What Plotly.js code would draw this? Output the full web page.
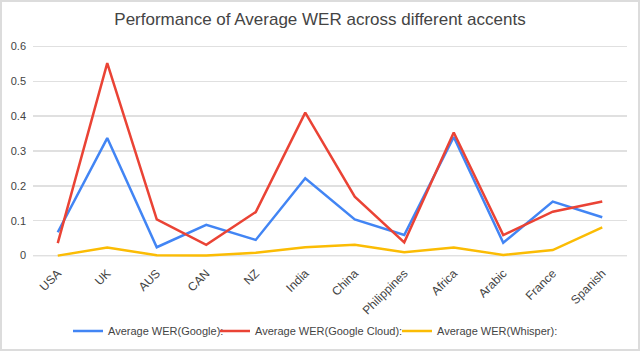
<!DOCTYPE html>
<html>
<head>
<meta charset="utf-8">
<script src="https://cdn.plot.ly/plotly-3.0.1.min.js"></script>
<style>
html,body{margin:0;padding:0;background:#fff;}
#wrap{width:640px;height:351px;box-sizing:border-box;border:2px solid #dcdcdc;position:relative;overflow:hidden;}
#chart{position:absolute;left:-2px;top:-2px;width:640px;height:351px;}
</style>
</head>
<body>
<div id="wrap"><div id="chart"></div></div>
<script>
const accents = ["USA","UK","AUS","CAN","NZ","India","China","Philippines","Africa","Arabic","France","Spanish"];
const werGoogle = [0.067,0.337,0.024,0.088,0.045,0.222,0.104,0.059,0.340,0.037,0.155,0.110];
const werGoogleCloud = [0.036,0.552,0.104,0.031,0.125,0.410,0.169,0.038,0.353,0.059,0.126,0.155];
const werWhisper = [0.000,0.023,0.001,0.000,0.008,0.024,0.031,0.010,0.023,0.002,0.016,0.081];
const seriesNames = ["Average WER(Google):","Average WER(Google Cloud):","Average WER(Whisper):"];
const seriesColors = ["#4285F4","#EA4335","#FBBC04"];
const legendIds = ["legend","legend2","legend3"];

const font = "'Liberation Sans', Arial, sans-serif";
const traces = [werGoogle, werGoogleCloud, werWhisper].map((vals, i) => ({
  type: "scatter",
  mode: "lines",
  x: accents,
  y: vals,
  name: seriesNames[i],
  legend: legendIds[i],
  line: {color: seriesColors[i], width: 2.5},
  cliponaxis: false
}));

function legendAt(px) {
  return {
    orientation: "h",
    xref: "container", yref: "container",
    x: px / 640, xanchor: "left",
    y: (351 - 331) / 351, yanchor: "middle",
    font: {family: font, size: 11, color: "#444"},
    bgcolor: "rgba(0,0,0,0)",
    borderwidth: 0,
    itemwidth: 30
  };
}

const layout = {
  width: 640,
  height: 351,
  margin: {l: 33, r: 13, t: 45, b: 94, pad: 0},
  paper_bgcolor: "#fff",
  plot_bgcolor: "#fff",
  font: {family: font, color: "#444", size: 11},
  title: {
    text: "Performance of Average WER across different accents",
    font: {family: font, size: 17, color: "#444"},
    x: 0.5, xanchor: "center", y: 0.945, yanchor: "middle"
  },
  xaxis: {
    type: "category",
    range: [-0.5, 11.5],
    tickangle: -45,
    showgrid: false,
    zeroline: false,
    showline: false,
    ticks: "",
    ticklabelstandoff: 6,
    tickfont: {family: font, size: 12, color: "#444"},
    automargin: false,
    fixedrange: true
  },
  yaxis: {
    range: [-0.004, 0.604],
    tickvals: [0, 0.1, 0.2, 0.3, 0.4, 0.5, 0.6],
    ticktext: ["0", "0.1", "0.2", "0.3", "0.4", "0.5", "0.6"],
    showgrid: true,
    gridcolor: "#e0e0e0",
    gridwidth: 1.3,
    zeroline: false,
    showline: false,
    ticks: "",
    ticklabelstandoff: 6,
    tickfont: {family: font, size: 11, color: "#444"},
    automargin: false,
    fixedrange: true
  },
  shapes: [{
    type: "line", xref: "paper", yref: "y", x0: 0, x1: 1, y0: 0, y1: 0,
    line: {color: "#cccccc", width: 1.3}, layer: "below"
  }],
  showlegend: true,
  legend: legendAt(68),
  legend2: legendAt(215),
  legend3: legendAt(397)
};

Plotly.newPlot("chart", traces, layout, {displayModeBar: false, staticPlot: true});
</script>
</body>
</html>
